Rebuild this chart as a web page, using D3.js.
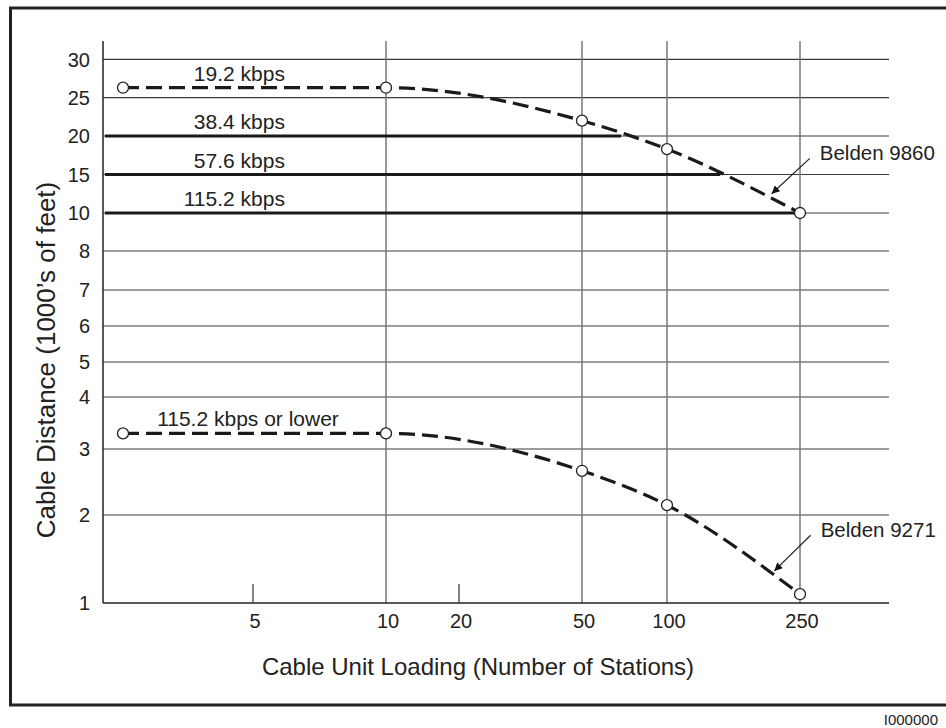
<!DOCTYPE html>
<html>
<head>
<meta charset="utf-8">
<script src="https://cdn.jsdelivr.net/npm/d3@7"></script>
<style>
  body { margin: 0; background: #fff; }
  svg text { font-family: "Liberation Sans", Arial, Helvetica, sans-serif; fill: #222; }
</style>
</head>
<body>
<div id="chart"></div>
<script>
// station counts where the curves have markers
const stations = [1, 10, 50, 100, 250];
// cable distance in 1000's of feet
const belden9860 = [26.3, 26.3, 22.0, 18.3, 10];
const belden9271 = [3.3, 3.3, 2.67, 2.15, 1.1];

// flat baud-rate limits on the 9860 cable
const rateLabels = ["38.4 kbps", "57.6 kbps", "115.2 kbps"];
const rateDistances = [20, 15, 10];
const rateMaxStations = [73, 160, 250];

// axis ticks
const yTicks = [1, 2, 3, 4, 5, 6, 7, 8, 10, 15, 20, 25, 30];
const xTicks = [5, 10, 20, 50, 100, 250];
const xGrid = [10, 50, 100, 250];
const xMinor = [5, 20];

let width = 946;
let height = 728;

// the paper's axes are hand drawn, so both scales are piecewise
let x = d3.scaleLinear()
  .domain([0.4, 1, 5, 10, 20, 50, 100, 250, 350])
  .range([103, 123, 253, 386, 459, 582, 667, 800, 889]);

let y = d3.scaleLinear()
  .domain([1, 2, 3, 4, 5, 6, 7, 8, 10, 15, 20, 25, 30, 32.4])
  .range([603, 515, 449, 397, 362, 326, 290, 251, 213, 174.5, 136, 97.7, 59.3, 41]);

let svg = d3.select("#chart").append("svg")
  .attr("width", width)
  .attr("height", height);

// arrow head for the cable callouts
svg.append("defs").append("marker")
  .attr("id", "arrow")
  .attr("viewBox", "0 0 10 10")
  .attr("refX", 10)
  .attr("refY", 5)
  .attr("markerWidth", 13)
  .attr("markerHeight", 8)
  .attr("markerUnits", "userSpaceOnUse")
  .attr("orient", "auto")
  .append("path")
  .attr("d", "M0,0L10,5L0,10Z")
  .style("fill", "#111");

// outer frame
svg.append("rect")
  .attr("x", 10.5)
  .attr("y", 8)
  .attr("width", 960)
  .attr("height", 697)
  .style("fill", "none")
  .style("stroke", "#222")
  .style("stroke-width", 3);

let grid = svg.append("g");

// horizontal grid
grid.selectAll(".hgrid")
  .data(yTicks.slice(1))
  .enter().append("line")
  .attr("class", "hgrid")
  .attr("x1", x.range()[0])
  .attr("x2", x.range()[x.range().length - 1])
  .attr("y1", d => y(d))
  .attr("y2", d => y(d))
  .style("stroke", "#3a3a3a")
  .style("stroke-width", 1.2);

// vertical grid
grid.selectAll(".vgrid")
  .data(xGrid)
  .enter().append("line")
  .attr("class", "vgrid")
  .attr("x1", d => x(d))
  .attr("x2", d => x(d))
  .attr("y1", y(32.4))
  .attr("y2", y(1))
  .style("stroke", "#777")
  .style("stroke-width", 1.5);

grid.selectAll(".minor")
  .data(xMinor)
  .enter().append("line")
  .attr("class", "minor")
  .attr("x1", d => x(d))
  .attr("x2", d => x(d))
  .attr("y1", y(1) - 19)
  .attr("y2", y(1))
  .style("stroke", "#333")
  .style("stroke-width", 1.2);

// axis lines
grid.append("line")
  .attr("x1", x(0.4)).attr("x2", x(0.4))
  .attr("y1", y(32.4)).attr("y2", y(1))
  .style("stroke", "#222").style("stroke-width", 1.5);
grid.append("line")
  .attr("x1", x(0.4)).attr("x2", x(350))
  .attr("y1", y(1)).attr("y2", y(1))
  .style("stroke", "#222").style("stroke-width", 1.5);

// tick labels
svg.selectAll(".ylab")
  .data(yTicks)
  .enter().append("text")
  .attr("class", "ylab")
  .attr("x", 90)
  .attr("y", d => y(d))
  .attr("dy", "0.36em")
  .attr("text-anchor", "end")
  .style("font-size", "20px")
  .text(d => d);

svg.selectAll(".xlab")
  .data(xTicks)
  .enter().append("text")
  .attr("class", "xlab")
  .attr("x", d => x(d) + 2)
  .attr("y", y(1) + 25)
  .attr("text-anchor", "middle")
  .style("font-size", "20px")
  .text(d => d);

// axis titles
svg.append("text")
  .attr("x", 478)
  .attr("y", 675)
  .attr("text-anchor", "middle")
  .style("font-size", "24px")
  .text("Cable Unit Loading (Number of Stations)");

svg.append("text")
  .attr("transform", "translate(55,360) rotate(-90)")
  .attr("text-anchor", "middle")
  .style("font-size", "26px")
  .text("Cable Distance (1000\u2019s of feet)");

// rate limit lines
let features = svg.append("g");

features.selectAll(".rate")
  .data(rateDistances)
  .enter().append("line")
  .attr("class", "rate")
  .attr("x1", x(0.4) + 2)
  .attr("x2", (d, i) => x(rateMaxStations[i]))
  .attr("y1", d => y(d))
  .attr("y2", d => y(d))
  .style("stroke", "#1a1a1a")
  .style("stroke-width", 3.2);

// cable curves
let line = d3.line()
  .x((d, i) => x(stations[i]))
  .y(d => y(d))
  .curve(d3.curveMonotoneX);

[belden9860, belden9271].forEach(function(series) {
  features.append("path")
    .datum(series)
    .attr("d", line)
    .style("fill", "none")
    .style("stroke", "#1a1a1a")
    .style("stroke-width", 3.2)
    .style("stroke-dasharray", "16,7");

  features.selectAll(null)
    .data(series)
    .enter().append("circle")
    .attr("cx", (d, i) => x(stations[i]))
    .attr("cy", d => y(d))
    .attr("r", 5.5)
    .style("fill", "#fff")
    .style("stroke", "#222")
    .style("stroke-width", 1.3);
});

// rate labels sit just above their line
let labelX = x(6.2);
features.append("text")
  .attr("x", labelX)
  .attr("y", y(belden9860[0]) - 7)
  .attr("text-anchor", "end")
  .style("font-size", "21px")
  .text("19.2 kbps");

features.selectAll(".ratelab")
  .data(rateDistances)
  .enter().append("text")
  .attr("class", "ratelab")
  .attr("x", labelX)
  .attr("y", d => y(d) - 7)
  .attr("text-anchor", "end")
  .style("font-size", "21px")
  .text((d, i) => rateLabels[i]);

features.append("text")
  .attr("x", x(2.05))
  .attr("y", y(belden9271[0]) - 7)
  .style("font-size", "21px")
  .text("115.2 kbps or lower");

// cable callouts
const calloutNames = ["Belden 9860", "Belden 9271"];
const calloutFrom = [[261, 17.1], [262, 1.77]];
const calloutTo = [[218, 12.5], [221, 1.365]];

calloutNames.forEach(function(name, i) {
  features.append("line")
    .attr("x1", x(calloutFrom[i][0]))
    .attr("y1", y(calloutFrom[i][1]))
    .attr("x2", x(calloutTo[i][0]))
    .attr("y2", y(calloutTo[i][1]))
    .style("stroke", "#222")
    .style("stroke-width", 1.2)
    .attr("marker-end", "url(#arrow)");
  features.append("text")
    .attr("x", x(calloutFrom[i][0]) + 10)
    .attr("y", y(calloutFrom[i][1]) + 2)
    .style("font-size", "20.5px")
    .text(name);
});

// figure id
svg.append("text")
  .attr("x", 938)
  .attr("y", 725)
  .attr("text-anchor", "end")
  .style("font-size", "15px")
  .text("I000000");
</script>
</body>
</html>
